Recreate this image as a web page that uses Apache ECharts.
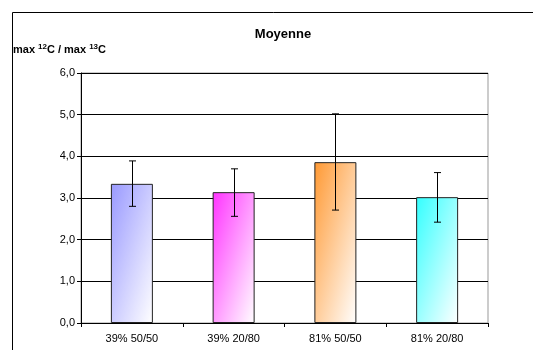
<!DOCTYPE html>
<html>
<head>
<meta charset="utf-8">
<script src="https://cdn.jsdelivr.net/npm/echarts@6/dist/echarts.min.js"></script>
<style>html,body{margin:0;padding:0;background:#fff}#c{width:533px;height:350px}</style>
</head>
<body>
<div id="c"></div>
<script>
var categories = ['39% 50/50', '39% 20/80', '81% 50/50', '81% 20/80'];
var means = [3.34, 3.14, 3.86, 3.02];
var errLow = [2.80, 2.56, 2.71, 2.42];
var errHigh = [3.89, 3.70, 5.02, 3.61];
var colors = ['#9999FF', '#FF33FF', '#FF9933', '#33FFFF'];
var yTicks = [0, 1, 2, 3, 4, 5, 6];

var chart = echarts.init(document.getElementById('c'));
var font = 'Liberation Sans, Arial, sans-serif';
var plotH = 350 - 73 - 27;
var barW = 42;

var barData = means.map(function (v, i) {
  // diagonal gradient whose isolines follow the bar's box diagonal (Excel style)
  var h = v / yTicks[yTicks.length - 1] * plotH;
  var d = h * h + barW * barW;
  var x2 = 2 * h * h / d, y2 = 2 * barW * barW / d;
  return {
    value: v,
    itemStyle: {
      color: new echarts.graphic.LinearGradient(0, 0, x2, y2, [
        { offset: 0, color: colors[i] },
        { offset: 1, color: '#FFFFFF' }
      ]),
      borderColor: '#222',
      borderWidth: 1
    }
  };
});
var errData = categories.map(function (c, i) { return [i, errLow[i], errHigh[i]]; });

chart.setOption({
  animation: false,
  backgroundColor: '#fff',
  title: [
    { text: 'Moyenne', left: 278, top: 23, textAlign: 'center',
      textStyle: { fontFamily: font, fontSize: 13, fontWeight: 'bold', color: '#000' } },
    { text: '{a|max }{s|12}{a|C / max }{s|13}{a|C}', left: 8, top: 38,
      textStyle: { rich: {
        a: { fontFamily: font, fontSize: 11, fontWeight: 'bold', color: '#000', verticalAlign: 'bottom' },
        s: { fontFamily: font, fontSize: 8, fontWeight: 'bold', color: '#000', verticalAlign: 'top', padding: [0, 0, 4, 0] }
      } } }
  ],
  graphic: [
    { type: 'rect', shape: { x: 12.5, y: 12.5, width: 700, height: 500 },
      style: { fill: 'none', stroke: '#000', lineWidth: 1 }, silent: true }
  ],
  grid: { left: 81, right: 45, top: 73, bottom: 27, show: true, borderColor: '#999', borderWidth: 1 },
  xAxis: {
    type: 'category', data: categories,
    axisLine: { lineStyle: { color: '#000', width: 1 } },
    axisTick: { show: true, length: 4, alignWithLabel: false, lineStyle: { color: '#000' } },
    axisLabel: { fontFamily: font, fontSize: 11, color: '#000', margin: 10 },
    splitLine: { show: false }
  },
  yAxis: {
    type: 'value', min: yTicks[0], max: yTicks[yTicks.length - 1], interval: 1,
    axisLine: { show: true, lineStyle: { color: '#000', width: 1 } },
    axisTick: { show: true, length: 4, lineStyle: { color: '#000' } },
    axisLabel: { fontFamily: font, fontSize: 11, color: '#000', margin: 6,
      formatter: function (v) { return v.toFixed(1).replace('.', ','); } },
    splitLine: { show: true, lineStyle: { color: '#000', width: 1 } }
  },
  series: [
    { type: 'bar', data: barData, barWidth: barW, z: 2 },
    { type: 'custom', data: errData, z: 5,
      renderItem: function (params, api) {
        var x = api.value(0);
        var lo = api.coord([x, api.value(1)]);
        var hi = api.coord([x, api.value(2)]);
        var cx = Math.round(lo[0]) + 0.5;
        var w = 3.5;
        var st = { stroke: '#000', lineWidth: 1 };
        return { type: 'group', children: [
          { type: 'line', shape: { x1: cx, y1: hi[1], x2: cx, y2: lo[1] }, style: st },
          { type: 'line', shape: { x1: cx - w, y1: hi[1], x2: cx + w, y2: hi[1] }, style: st },
          { type: 'line', shape: { x1: cx - w, y1: lo[1], x2: cx + w, y2: lo[1] }, style: st }
        ] };
      } }
  ]
});
</script>
</body>
</html>
